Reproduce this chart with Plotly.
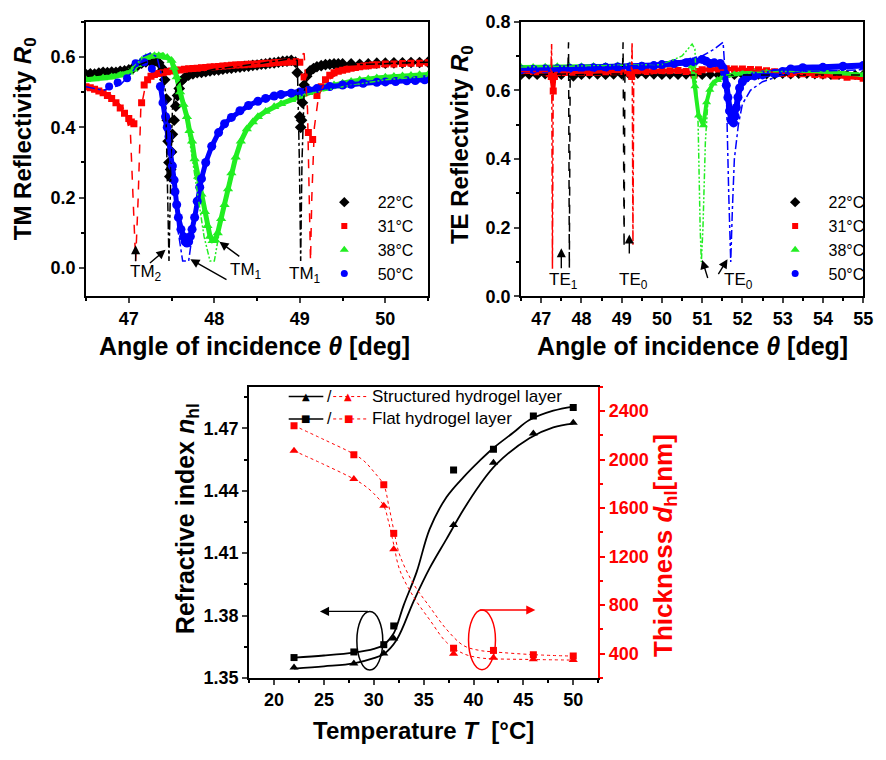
import plotly.graph_objects as go

# ---------------- TM panel (top-left) ----------------
tm22_x = [46.5,46.55,46.6,46.65,46.7,46.75,46.8,46.85,46.9,46.95,47.0,47.05,47.1,47.15,47.2,47.25,47.3,47.35,47.4,47.42,47.44,47.45,47.46,47.47,47.48,47.49,47.5,47.51,47.53,47.55,47.57,47.59,47.61,47.65,47.7,47.75,47.8,47.85,47.9,47.95,48.0,48.05,48.1,48.15,48.2,48.25,48.3,48.35,48.4,48.45,48.5,48.55,48.6,48.65,48.7,48.75,48.8,48.85,48.9,48.95,48.97,48.99,49.0,49.01,49.02,49.03,49.05,49.08,49.12,49.16,49.2,49.25,49.3,49.35,49.4,49.45,49.5,49.6,49.7,49.8,49.9,50.0,50.1,50.2,50.3,50.4,50.5]
tm22_y = [0.550,0.552,0.551,0.554,0.556,0.555,0.557,0.556,0.559,0.560,0.563,0.568,0.575,0.582,0.586,0.588,0.587,0.583,0.565,0.535,0.48,0.42,0.36,0.30,0.26,0.28,0.33,0.38,0.42,0.46,0.49,0.51,0.53,0.54,0.548,0.552,0.555,0.556,0.558,0.560,0.562,0.563,0.565,0.567,0.568,0.570,0.571,0.573,0.574,0.576,0.577,0.579,0.580,0.582,0.583,0.585,0.587,0.588,0.590,0.585,0.555,0.49,0.43,0.40,0.42,0.47,0.52,0.545,0.56,0.567,0.572,0.575,0.578,0.579,0.580,0.580,0.580,0.580,0.579,0.580,0.582,0.582,0.583,0.583,0.584,0.584,0.585]

tm31_x = [46.5,46.55,46.6,46.65,46.7,46.75,46.8,46.85,46.9,46.95,47.0,47.03,47.06,47.15,47.18,47.22,47.26,47.3,47.35,47.4,47.45,47.5,47.55,47.6,47.65,47.7,47.75,47.8,47.85,47.9,47.95,48.0,48.05,48.1,48.15,48.2,48.25,48.3,48.35,48.4,48.45,48.5,48.55,48.6,48.65,48.7,48.75,48.8,48.85,48.9,48.95,49.0,49.05,49.1,49.15,49.2,49.25,49.3,49.35,49.4,49.45,49.5,49.55,49.6,49.65,49.7,49.75,49.8,49.85,49.9,50.0,50.1,50.2,50.3,50.4,50.5]
tm31_y = [0.515,0.512,0.508,0.503,0.498,0.490,0.482,0.470,0.455,0.440,0.425,0.415,0.410,0.470,0.520,0.535,0.545,0.550,0.553,0.555,0.558,0.560,0.562,0.563,0.565,0.566,0.567,0.568,0.569,0.570,0.571,0.572,0.573,0.574,0.575,0.576,0.577,0.578,0.578,0.579,0.579,0.580,0.581,0.582,0.582,0.583,0.584,0.585,0.585,0.586,0.586,0.585,0.543,0.385,0.365,0.490,0.515,0.535,0.548,0.555,0.559,0.562,0.565,0.568,0.570,0.572,0.574,0.575,0.577,0.578,0.580,0.580,0.581,0.582,0.582,0.583]

tm38_x = [46.5,46.6,46.7,46.8,46.9,47.0,47.05,47.1,47.15,47.2,47.25,47.3,47.35,47.4,47.45,47.5,47.53,47.56,47.6,47.64,47.68,47.71,47.74,47.77,47.81,47.85,47.89,47.92,47.95,47.98,48.01,48.04,48.08,48.12,48.16,48.2,48.25,48.31,48.38,48.45,48.51,48.6,48.7,48.78,48.9,49.0,49.1,49.2,49.3,49.4,49.5,49.6,49.7,49.8,49.9,50.0,50.1,50.2,50.3,50.4,50.5]
tm38_y = [0.535,0.537,0.540,0.543,0.548,0.556,0.565,0.578,0.590,0.598,0.602,0.603,0.603,0.602,0.598,0.590,0.570,0.543,0.500,0.465,0.430,0.390,0.360,0.310,0.260,0.210,0.160,0.120,0.090,0.078,0.080,0.100,0.140,0.180,0.225,0.270,0.315,0.360,0.395,0.415,0.430,0.445,0.458,0.467,0.478,0.488,0.498,0.507,0.513,0.520,0.525,0.530,0.534,0.537,0.540,0.542,0.544,0.546,0.547,0.549,0.550]

tm50a_x = [46.77,46.87,46.98,47.08,47.18,47.27]
tm50a_y = [0.516,0.527,0.539,0.582,0.585,0.566]
tm50_x = [47.37,47.40,47.43,47.45,47.47,47.49,47.51,47.53,47.54,47.56,47.58,47.61,47.64,47.66,47.68,47.70,47.72,47.74,47.77,47.80,47.83,47.85,47.90,47.97,48.05,48.12,48.2,48.3,48.4,48.51,48.6,48.7,48.78,48.9,49.0,49.1,49.2,49.35,49.5,49.6,49.74,49.9,50.0,50.12,50.25,50.35,50.46]
tm50_y = [0.516,0.470,0.430,0.400,0.374,0.330,0.290,0.250,0.217,0.180,0.144,0.110,0.089,0.075,0.071,0.075,0.090,0.110,0.144,0.190,0.230,0.254,0.300,0.346,0.385,0.410,0.428,0.447,0.462,0.474,0.482,0.489,0.493,0.497,0.500,0.505,0.510,0.516,0.520,0.522,0.525,0.528,0.529,0.530,0.532,0.533,0.535]

# fitted curves (TM)
tmfit22_x = [46.5,47.0,47.2,47.3,47.38,47.43,47.455,47.47,47.485,47.51,47.56,47.65,48.0,48.5,48.9,48.97,48.995,49.01,49.025,49.05,49.1,49.3,50.5]
tmfit22_y = [0.55,0.565,0.585,0.59,0.575,0.50,0.20,0.02,0.20,0.45,0.52,0.545,0.565,0.58,0.595,0.59,0.30,0.02,0.30,0.50,0.555,0.575,0.585]
tmfit31_x = [46.5,46.8,46.95,47.02,47.05,47.08,47.11,47.14,47.2,47.3,48.0,48.9,49.05,49.09,49.11,49.125,49.14,49.17,49.22,49.3,49.5,50.0,50.5]
tmfit31_y = [0.515,0.49,0.45,0.38,0.20,0.02,0.20,0.45,0.525,0.55,0.57,0.585,0.61,0.45,0.20,0.02,0.20,0.40,0.49,0.53,0.56,0.575,0.58]
tmfit38_x = [46.5,47.0,47.2,47.4,47.5,47.6,47.7,47.8,47.88,47.95,48.0,48.05,48.12,48.2,48.35,48.55,48.8,49.0,49.5,50.0,50.5]
tmfit38_y = [0.535,0.56,0.605,0.61,0.595,0.52,0.38,0.22,0.09,0.02,0.02,0.09,0.19,0.28,0.38,0.44,0.47,0.49,0.515,0.535,0.545]
tmfit50_x = [46.5,46.7,46.9,47.05,47.15,47.25,47.33,47.38,47.45,47.52,47.58,47.63,47.7,47.74,47.8,47.9,48.0,48.2,48.5,49.0,49.5,50.0,50.5]
tmfit50_y = [0.515,0.505,0.52,0.56,0.60,0.61,0.60,0.55,0.42,0.25,0.10,0.02,0.02,0.09,0.18,0.29,0.36,0.43,0.47,0.50,0.515,0.527,0.535]

# ---------------- TE panel (top-right) ----------------
te22_x = [46.5,46.7,46.9,47.1,47.3,47.5,47.8,48.0,48.2,48.4,48.6,48.8,49.0,49.2,49.4,49.6,49.8,50.0,50.2,50.4,50.6,50.8,51.0,51.2,51.4,51.6,51.8,52.0,52.2,52.4,52.6,52.8,53.0,53.2,53.4,53.6,53.8,54.0,54.2,54.4,54.6,54.8,55.0]
te22_y = [0.645,0.646,0.645,0.647,0.646,0.645,0.640,0.645,0.647,0.646,0.645,0.646,0.647,0.645,0.648,0.647,0.646,0.645,0.646,0.645,0.646,0.645,0.645,0.646,0.645,0.646,0.645,0.646,0.645,0.646,0.647,0.646,0.648,0.647,0.648,0.648,0.647,0.646,0.645,0.645,0.645,0.645,0.645]

te31_x = [46.5,46.7,46.9,47.1,47.2,47.25,47.3,47.33,47.4,47.6,47.8,48.0,48.2,48.4,48.6,48.8,49.0,49.2,49.25,49.3,49.4,49.6,49.8,50.0,50.2,50.4,50.6,50.8,50.9,51.0,51.2,51.4,51.6,51.8,52.0,52.2,52.4,52.6,52.8,53.0,53.2,53.5,53.8,54.0,54.3,54.6,55.0]
te31_y = [0.655,0.655,0.654,0.654,0.650,0.640,0.598,0.640,0.652,0.652,0.653,0.653,0.652,0.653,0.654,0.654,0.655,0.650,0.640,0.652,0.655,0.655,0.656,0.657,0.657,0.658,0.655,0.645,0.655,0.660,0.662,0.662,0.663,0.662,0.662,0.661,0.660,0.657,0.654,0.650,0.648,0.648,0.646,0.645,0.642,0.638,0.635]

te38_x = [46.5,46.8,47.1,47.4,47.7,48.0,48.3,48.6,48.9,49.2,49.5,49.8,50.0,50.3,50.6,50.75,50.82,50.91,51.03,51.11,51.19,51.27,51.38,51.48,51.6,51.8,52.0,52.3,52.6,53.0,53.5,54.0,54.5,55.0]
te38_y = [0.668,0.668,0.669,0.670,0.670,0.670,0.671,0.671,0.672,0.672,0.672,0.673,0.672,0.675,0.680,0.670,0.612,0.527,0.498,0.565,0.602,0.620,0.630,0.636,0.642,0.647,0.650,0.651,0.652,0.655,0.657,0.655,0.650,0.645]

te50_x = [46.5,46.8,47.1,47.4,47.7,48.0,48.3,48.6,48.9,49.2,49.5,49.8,50.0,50.3,50.6,50.8,51.0,51.1,51.2,51.3,51.45,51.52,51.56,51.6,51.64,51.68,51.72,51.78,51.82,51.85,51.89,51.93,52.0,52.09,52.3,52.5,52.8,53.0,53.2,53.5,54.0,54.5,55.0]
te50_y = [0.660,0.661,0.662,0.663,0.664,0.665,0.666,0.667,0.668,0.668,0.670,0.672,0.675,0.678,0.680,0.683,0.690,0.685,0.678,0.680,0.678,0.665,0.650,0.615,0.579,0.540,0.513,0.505,0.525,0.550,0.580,0.607,0.625,0.636,0.642,0.645,0.650,0.655,0.662,0.666,0.667,0.670,0.672]

tefit22_x = [46.5,47.66,47.68,47.70,47.72,49.02,49.035,49.06,49.08,55.0]
tefit22_y = [0.645,0.648,0.74,0.08,0.645,0.648,0.74,0.14,0.645,0.645]
tefit31_x = [46.5,47.24,47.26,47.28,47.30,49.24,49.26,49.28,49.30,52.0,53.0,55.0]
tefit31_y = [0.655,0.655,0.735,0.08,0.652,0.654,0.74,0.15,0.654,0.66,0.65,0.635]
tefit38_x = [46.5,50.0,50.5,50.75,50.82,50.9,50.95,50.98,51.02,51.08,51.15,51.3,51.6,52.0,53.0,55.0]
tefit38_y = [0.668,0.675,0.70,0.735,0.72,0.50,0.20,0.10,0.20,0.45,0.58,0.63,0.645,0.65,0.655,0.65]
tefit50_x = [46.5,50.0,51.0,51.3,51.52,51.6,51.66,51.71,51.75,51.8,51.9,52.0,52.2,52.5,53.0,53.5,55.0]
tefit50_y = [0.66,0.675,0.70,0.72,0.74,0.60,0.30,0.10,0.25,0.40,0.50,0.56,0.60,0.625,0.645,0.655,0.66]

# ---------------- Bottom panel ----------------
temps = [22, 28, 31, 32, 38, 42, 46, 50]
n_flat = [1.3598, 1.3625, 1.3660, 1.3750, 1.4500, 1.4600, 1.4760, 1.4800]
n_struct = [1.3550, 1.3570, 1.3617, 1.3690, 1.4235, 1.4535, 1.4675, 1.4727]
d_flat = [2280, 2040, 1792, 1392, 445, 427, 392, 381]
d_struct = [2072, 1840, 1619, 1262, 400, 366, 355, 347]

nfit_T = [22, 25, 28, 30, 31, 32, 32.3, 33, 34.3, 35.6, 37.3, 39, 40.6, 42, 44, 45.6, 48, 50]
nfit_flat = [1.3598, 1.3608, 1.3622, 1.3640, 1.3660, 1.3715, 1.3749, 1.3850, 1.4010, 1.4216, 1.4370, 1.4466, 1.4544, 1.4606, 1.4680, 1.4740, 1.4785, 1.4805]
nfit_T2 = [22, 25, 28, 30, 31, 32.3, 34, 35.6, 37.3, 39, 40.6, 42.3, 45.6, 48, 50]
nfit_struct = [1.3545, 1.3556, 1.3570, 1.3595, 1.3615, 1.3684, 1.3870, 1.4028, 1.4169, 1.4310, 1.4427, 1.4528, 1.4653, 1.4705, 1.4723]
dfit_T = [22, 25, 28, 29, 30, 31, 31.5, 32, 32.6, 34, 35.6, 37.3, 39, 40.6, 42, 46, 50]
dfit_flat = [2280, 2165, 2045, 1990, 1900, 1790, 1620, 1420, 1213, 973, 787, 600, 467, 427, 415, 392, 380]
dfit_struct = [2072, 1960, 1840, 1790, 1720, 1619, 1480, 1300, 1090, 867, 680, 493, 400, 366, 358, 352, 347]

legend_labels = ["22°C", "31°C", "38°C", "50°C"]
bottom_labels = ["Structured hydrogel layer", "Flat hydrogel layer"]

BLACK, RED, GREEN, BLUE = "#000000", "#ff0000", "#22ee22", "#0000ff"
FONT = "Liberation Sans, Arial, sans-serif"
DASHDOTDOT = "6px,2px,2px,2px,2px,2px"
NB = "\u00a0\u00a0\u00a0"

fig = go.Figure()

# TM markers
fig.add_trace(go.Scatter(x=tm22_x, y=tm22_y, mode="markers", showlegend=False,
                         marker=dict(symbol="diamond", size=9, color=BLACK), xaxis="x", yaxis="y"))
fig.add_trace(go.Scatter(x=tm31_x, y=tm31_y, mode="markers", showlegend=False,
                         marker=dict(symbol="square", size=7, color=RED), xaxis="x", yaxis="y"))
fig.add_trace(go.Scatter(x=tm38_x, y=tm38_y, mode="lines+markers", showlegend=False,
                         line=dict(color=GREEN, width=5), marker=dict(symbol="triangle-up", size=9, color=GREEN),
                         xaxis="x", yaxis="y"))
fig.add_trace(go.Scatter(x=tm50a_x, y=tm50a_y, mode="markers", showlegend=False,
                         marker=dict(symbol="circle", size=8, color=BLUE), xaxis="x", yaxis="y"))
fig.add_trace(go.Scatter(x=tm50_x, y=tm50_y, mode="lines+markers", showlegend=False,
                         line=dict(color=BLUE, width=5), marker=dict(symbol="circle", size=9, color=BLUE),
                         xaxis="x", yaxis="y"))
for fx, fy, c, d in [(tmfit22_x, tmfit22_y, BLACK, "dashdot"), (tmfit31_x, tmfit31_y, RED, "dash"),
                     (tmfit38_x, tmfit38_y, GREEN, DASHDOTDOT), (tmfit50_x, tmfit50_y, BLUE, "dashdot")]:
    fig.add_trace(go.Scatter(x=fx, y=fy, mode="lines", showlegend=False, line=dict(color=c, width=1.5, dash=d),
                             xaxis="x", yaxis="y"))

# TE markers
fig.add_trace(go.Scatter(x=te22_x, y=te22_y, mode="markers", showlegend=False,
                         marker=dict(symbol="diamond", size=8, color=BLACK), xaxis="x2", yaxis="y2"))
fig.add_trace(go.Scatter(x=te31_x, y=te31_y, mode="lines+markers", showlegend=False,
                         line=dict(color=RED, width=4), marker=dict(symbol="square", size=7, color=RED),
                         xaxis="x2", yaxis="y2"))
fig.add_trace(go.Scatter(x=te38_x, y=te38_y, mode="lines+markers", showlegend=False,
                         line=dict(color=GREEN, width=4), marker=dict(symbol="triangle-up", size=8, color=GREEN),
                         xaxis="x2", yaxis="y2"))
fig.add_trace(go.Scatter(x=te50_x, y=te50_y, mode="lines+markers", showlegend=False,
                         line=dict(color=BLUE, width=6), marker=dict(symbol="circle", size=9, color=BLUE),
                         xaxis="x2", yaxis="y2"))
for fx, fy, c, d in [(tefit22_x, tefit22_y, BLACK, "dash"), (tefit31_x, tefit31_y, RED, "dashdot"),
                     (tefit38_x, tefit38_y, GREEN, DASHDOTDOT), (tefit50_x, tefit50_y, BLUE, "dashdot")]:
    fig.add_trace(go.Scatter(x=fx, y=fy, mode="lines", showlegend=False, line=dict(color=c, width=1.5, dash=d),
                             xaxis="x2", yaxis="y2"))

# legend entries (marker only, as in the reference)
leg_style = [("diamond", 8, BLACK), ("square", 6, RED), ("triangle-up", 8, GREEN), ("circle", 7, BLUE)]
for lg, xa, ya in [("legend", "x", "y"), ("legend2", "x2", "y2")]:
    for lab, (sym, sz, col) in zip(legend_labels, leg_style):
        fig.add_trace(go.Scatter(x=[None], y=[None], mode="markers", name=NB + lab, legend=lg,
                                 marker=dict(symbol=sym, size=sz, color=col), xaxis=xa, yaxis=ya))

# Bottom panel
fig.add_trace(go.Scatter(x=nfit_T, y=nfit_flat, mode="lines", line=dict(color=BLACK, width=1.8, shape="spline"),
                         showlegend=False, xaxis="x3", yaxis="y3"))
fig.add_trace(go.Scatter(x=nfit_T2, y=nfit_struct, mode="lines", line=dict(color=BLACK, width=1.8, shape="spline"),
                         showlegend=False, xaxis="x3", yaxis="y3"))
fig.add_trace(go.Scatter(x=temps, y=n_flat, mode="markers", marker=dict(symbol="square", size=7, color=BLACK),
                         showlegend=False, xaxis="x3", yaxis="y3"))
fig.add_trace(go.Scatter(x=temps, y=n_struct, mode="markers", marker=dict(symbol="triangle-up", size=8, color=BLACK),
                         showlegend=False, xaxis="x3", yaxis="y3"))
fig.add_trace(go.Scatter(x=dfit_T, y=dfit_flat, mode="lines", line=dict(color=RED, width=1, dash="dot", shape="spline"),
                         showlegend=False, xaxis="x3", yaxis="y4"))
fig.add_trace(go.Scatter(x=dfit_T, y=dfit_struct, mode="lines", line=dict(color=RED, width=1, dash="dot", shape="spline"),
                         showlegend=False, xaxis="x3", yaxis="y4"))
fig.add_trace(go.Scatter(x=temps, y=d_flat, mode="markers", marker=dict(symbol="square", size=7, color=RED),
                         showlegend=False, xaxis="x3", yaxis="y4"))
fig.add_trace(go.Scatter(x=temps, y=d_struct, mode="markers", marker=dict(symbol="triangle-up", size=8, color=RED),
                         showlegend=False, xaxis="x3", yaxis="y4"))

W, H = 886, 760
def px(x): return x / W
def py(y): return 1 - y / H

tickfont = dict(family=FONT, size=18, color=BLACK, weight="bold")
def xax(domain, anchor, rng, dtick, minor_dtick, mirror=True):
    return dict(domain=domain, anchor=anchor, range=rng, dtick=dtick, tick0=0, ticks="outside", ticklen=5,
                tickwidth=1.5, showline=True, linewidth=1.8, linecolor=BLACK, mirror=mirror, showgrid=False,
                zeroline=False, tickfont=tickfont, tickprefix="<b>", ticksuffix="</b>",
                minor=dict(dtick=minor_dtick, ticks="outside", ticklen=3, tickwidth=1.5, tickcolor=BLACK, showgrid=False))

top_dom = [py(294), py(12)]
layout = dict(
    width=W, height=H, margin=dict(l=0, r=0, t=0, b=0), paper_bgcolor="white", plot_bgcolor="white",
    font=dict(family=FONT, color=BLACK),
    xaxis=xax([px(87), px(433)], "y", [46.5, 50.5], 1, 0.5),
    yaxis=dict(xax(top_dom, "x", [-0.08, 0.7], 0.2, 0.1), tickformat=".1f"),
    xaxis2=xax([px(527), px(873)], "y2", [46.5, 55], 1, 0.5),
    yaxis2=dict(xax(top_dom, "x2", [0, 0.8], 0.2, 0.1), tickformat=".1f"),
    xaxis3=xax([px(252), px(605)], "y3", [17.5, 52.5], 5, 2.5),
    yaxis3=dict(xax([py(686), py(387)], "x3", [1.35, 1.49], 0.03, 0.015, mirror=False), tick0=1.35, tickformat=".2f"),
    yaxis4=dict(overlaying="y3", side="right", anchor="x3", range=[200, 2600], dtick=400, tick0=0,
                ticks="outside", ticklen=5, tickwidth=1.5, tickcolor=RED, showline=True, linewidth=1.8,
                linecolor=RED, showgrid=False, zeroline=False, tickprefix="<b>", ticksuffix="</b>",
                tickfont=dict(family=FONT, size=18, color=RED, weight="bold"),
                minor=dict(dtick=200, ticks="outside", ticklen=3, tickwidth=1.5, tickcolor=RED)),
    legend=dict(x=px(328), y=py(180), xanchor="left", yanchor="top", bgcolor="rgba(0,0,0,0)",
                font=dict(family=FONT, size=16, color=BLACK), tracegroupgap=0),
    legend2=dict(x=px(784), y=py(180), xanchor="left", yanchor="top", bgcolor="rgba(0,0,0,0)",
                 font=dict(family=FONT, size=16, color=BLACK), tracegroupgap=0),
)
fig.update_layout(**layout)

ann = []
def title(text, x, y, angle=0, color=BLACK, size=25):
    ann.append(dict(text=text, x=px(x), y=py(y), xref="paper", yref="paper", showarrow=False, textangle=angle,
                    font=dict(family=FONT, size=size, color=color), xanchor="center", yanchor="middle"))

title("<b>TM Reflectivity <i>R</i><sub>0</sub></b>", 25, 132, -90, size=24)
title("<b>TE Reflectivity <i>R</i><sub>0</sub></b>", 467, 138, -90, size=24)
title("<b>Angle of incidence <i>θ</i> [deg]</b>", 257, 345)
title("<b>Angle of incidence <i>θ</i> [deg]</b>", 700, 345)
title("<b>Temperature <i>T</i>  [°C]</b>", 428, 740, size=24)
title("<b>Refractive index <i>n</i><sub>hl</sub></b>", 189, 522, -90, size=25)
title("<b>Thickness <i>d</i><sub>hl</sub>[nm]</b>", 672, 550, -90, RED, size=26)

def label(text, x, y, xr, yr, size=17):
    ann.append(dict(text=text, x=x, y=y, xref=xr, yref=yr, showarrow=False,
                    font=dict(family=FONT, size=size, color=BLACK)))

def arrow(x, y, ax, ay, xr, yr, color=BLACK):
    ann.append(dict(text="", x=x, y=y, ax=ax, ay=ay, xref=xr, yref=yr, axref=xr, ayref=yr, showarrow=True,
                    arrowhead=2, arrowsize=1.3, arrowwidth=1.4, arrowcolor=color))

# TM labels
label("TM<sub>2</sub>", 47.2, -0.015, "x", "y")
label("TM<sub>1</sub>", 48.37, -0.007, "x", "y")
label("TM<sub>1</sub>", 49.06, -0.02, "x", "y")
arrow(47.08, 0.065, 47.08, 0.015, "x", "y")
arrow(47.43, 0.052, 47.23, 0.011, "x", "y")
arrow(47.72, 0.025, 48.16, -0.035, "x", "y")
arrow(48.06, 0.075, 48.31, 0.03, "x", "y")
# TE labels
label("TE<sub>1</sub>", 47.55, 0.045, "x2", "y2")
label("TE<sub>0</sub>", 49.3, 0.045, "x2", "y2")
label("TE<sub>0</sub>", 51.9, 0.045, "x2", "y2")
arrow(47.5, 0.14, 47.5, 0.077, "x2", "y2")
arrow(49.19, 0.18, 49.19, 0.12, "x2", "y2")
arrow(51.0, 0.106, 51.15, 0.049, "x2", "y2")
arrow(51.63, 0.108, 51.38, 0.06, "x2", "y2")
# bottom ellipse arrows
arrow(24.6, 1.3820, 29.56, 1.3820, "x3", "y3", BLACK)
arrow(46.2, 760, 40.48, 760, "x3", "y4", RED)

# bottom legend (manual)
rows = [(397, "▲", bottom_labels[0]), (420, "■", bottom_labels[1])]
shapes = []
for yy, sym, txt in rows:
    shapes.append(dict(type="line", xref="paper", yref="paper", x0=px(292), x1=px(327), y0=py(yy), y1=py(yy),
                       line=dict(color=BLACK, width=1.5)))
    shapes.append(dict(type="line", xref="paper", yref="paper", x0=px(337), x1=px(371), y0=py(yy), y1=py(yy),
                       line=dict(color=RED, width=1, dash="dot")))
    for xx, c in [(309, BLACK), (352, RED)]:
        ann.append(dict(text=sym, x=px(xx), y=py(yy), xref="paper", yref="paper", showarrow=False,
                        font=dict(family="DejaVu Sans", size=10, color=c), xanchor="center", yanchor="middle"))
    ann.append(dict(text="/", x=px(333), y=py(yy), xref="paper", yref="paper", showarrow=False,
                    font=dict(family=FONT, size=16, color=BLACK), xanchor="center", yanchor="middle"))
    ann.append(dict(text=txt, x=px(374), y=py(yy), xref="paper", yref="paper", showarrow=False,
                    font=dict(family=FONT, size=17, color=BLACK), xanchor="left", yanchor="middle"))

# ellipses
shapes.append(dict(type="circle", xref="x3", yref="y3", x0=28.3, x1=30.9, y0=1.3538, y1=1.3819,
                   line=dict(color=BLACK, width=1.5)))
shapes.append(dict(type="circle", xref="x3", yref="y4", x0=39.5, x1=42.2, y0=267, y1=760,
                   line=dict(color=RED, width=1.5)))

fig.update_layout(annotations=ann, shapes=shapes)
fig.write_html("out.html")
